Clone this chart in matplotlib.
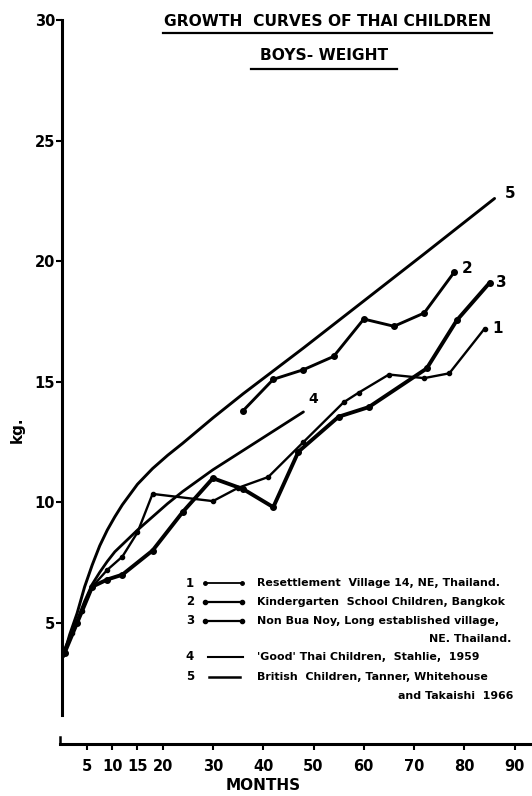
import numpy as np
import matplotlib
matplotlib.use("Agg")
import matplotlib.pyplot as plt
from matplotlib.lines import Line2D

## Values (age in months, weight in kg)
# 1 Resettlement Village 14, NE Thailand
s1_month = [0.5, 2, 4, 6, 9, 12, 15, 18, 30, 35, 41, 48, 56, 59, 65, 72, 77, 84]
s1_kg = [3.8, 4.6, 5.5, 6.5, 7.2, 7.75, 8.75, 10.35, 10.05, 10.6, 11.05, 12.5,
         14.15, 14.55, 15.3, 15.15, 15.35, 17.2]
# 2 Kindergarten school children, Bangkok
s2_month = [36, 42, 48, 54, 60, 66, 72, 78]
s2_kg = [13.8, 15.1, 15.5, 16.05, 17.6, 17.3, 17.85, 19.55]
# 3 Non Bua Noy
s3_month = [0.5, 3, 6, 9, 12, 18, 24, 30, 36, 42, 47, 55, 61, 72.5, 78.5, 85]
s3_kg = [3.75, 5.0, 6.5, 6.8, 7.0, 8.0, 9.6, 11.0, 10.55, 9.8, 12.1, 13.55,
         13.95, 15.55, 17.55, 19.1]
# 4 'Good' Thai children (Stahlie)
c4_month = [0.5, 1.5, 3, 4.5, 6, 7.5, 9, 10.5, 12, 15, 18, 21, 24, 30, 36, 42, 48]
c4_kg = [3.9, 4.4, 5.1, 5.9, 6.6, 7.1, 7.55, 7.95, 8.25, 8.85, 9.4, 9.95, 10.45,
         11.35, 12.15, 12.95, 13.75]
# 5 British children (Tanner, Whitehouse, Takaishi)
c5_month = [0.3, 1.5, 3, 4.5, 6, 7.5, 9, 10.5, 12, 15, 18, 21, 24, 30, 36, 42,
            48, 60, 72, 86]
c5_kg = [3.6, 4.5, 5.4, 6.5, 7.4, 8.2, 8.85, 9.4, 9.9, 10.75, 11.4, 11.95, 12.45,
         13.5, 14.5, 15.45, 16.4, 18.35, 20.3, 22.6]

x_ticks = [5, 10, 15, 20, 30, 40, 50, 60, 70, 80, 90]
y_ticks = [5, 10, 15, 20, 25, 30]

legend_rows = [
    ("1", "Resettlement  Village 14, NE, Thailand."),
    ("2", "Kindergarten  School Children, Bangkok"),
    ("3", "Non Bua Noy, Long established village,"),
    ("4", "'Good' Thai Children,  Stahlie,  1959"),
    ("5", "British  Children, Tanner, Whitehouse"),
]

W, H = 532, 796
fig = plt.figure(figsize=(W / 100, H / 100), dpi=100)
ax = fig.add_axes([59.5 / W, 1 - 743.5 / H, 472.8 / W, 723.5 / H])
ax.set_xlim(-0.5, 93.5)
ax.set_ylim(0, 30)

bold = dict(fontweight="bold", family="DejaVu Sans")
k = "black"

ax.plot(c5_month, c5_kg, color=k, lw=2.1, solid_capstyle="round", solid_joinstyle="round")
ax.plot(c4_month, c4_kg, color=k, lw=2.0, solid_capstyle="round", solid_joinstyle="round")
ax.plot(s1_month, s1_kg, color=k, lw=1.7, marker="o", ms=3)
ax.plot(s2_month, s2_kg, color=k, lw=2.1, marker="o", ms=4)
ax.plot(s3_month, s3_kg, color=k, lw=2.8, marker="o", ms=4)

# end labels
ax.text(89.0, 22.8, "5", ha="center", va="center", fontsize=11, **bold)
ax.text(80.6, 19.7, "2", ha="center", va="center", fontsize=11, **bold)
ax.text(87.4, 19.1, "3", ha="center", va="center", fontsize=11, **bold)
ax.text(86.6, 17.2, "1", ha="center", va="center", fontsize=11, **bold)
ax.text(50.0, 14.3, "4", ha="center", va="center", fontsize=10, **bold)

# axes styling
for s in ["top", "right"]:
    ax.spines[s].set_visible(False)
ax.spines["left"].set_position(("data", 0))
ax.spines["left"].set_bounds(1.2, 30)
ax.spines["left"].set_linewidth(2.2)
ax.spines["bottom"].set_bounds(-0.5, 93.5)
ax.spines["bottom"].set_linewidth(2.2)
ax.set_xticks(x_ticks)
ax.set_yticks(y_ticks)
ax.tick_params(axis="x", direction="out", length=4, width=1.5, pad=7, labelsize=10.5)
ax.tick_params(axis="y", direction="out", length=4, width=1.5, pad=1, labelsize=10.5)
for lab in ax.get_xticklabels() + ax.get_yticklabels():
    lab.set_fontweight("bold")

# small hook at the left end of the time axis
ax.plot([-0.4, -0.4], [0, 0.25], color=k, lw=1.8, clip_on=False)

# legend drawn by hand
row_y = [6.65, 5.87, 5.08, 3.59, 2.76]
for (num, txt), y in zip(legend_rows, row_y):
    ax.text(25.4, y, num, ha="center", va="center", fontsize=8.5, **bold)
    ax.text(38.8, y, txt, ha="left", va="center", fontsize=7.9, **bold)
ax.plot([28.4, 35.8], [6.65, 6.65], color=k, lw=1.3, marker="o", ms=2.5)
ax.plot([28.4, 35.8], [5.87, 5.87], color=k, lw=1.6, marker="o", ms=3)
ax.plot([28.4, 35.8], [5.08, 5.08], color=k, lw=1.6, marker="o", ms=3)
ax.plot([29.0, 36.0], [3.59, 3.59], color=k, lw=1.5)
ax.plot([29.3, 35.3], [2.76, 2.76], color=k, lw=1.8)
ax.text(89.3, 4.33, "NE. Thailand.", ha="right", va="center", fontsize=7.9, **bold)
ax.text(89.8, 1.97, "and Takaishi  1966", ha="right", va="center", fontsize=7.9, **bold)

# titles with underline
fig.text(327.5 / W, 1 - 22 / H, "GROWTH  CURVES OF THAI CHILDREN", ha="center",
         va="center", fontsize=11.2, **bold)
fig.add_artist(Line2D([163 / W, 492 / W], [1 - 33 / H] * 2, color=k, lw=1.6))
fig.text(324 / W, 1 - 55 / H, "BOYS- WEIGHT", ha="center", va="center",
         fontsize=11.2, **bold)
fig.add_artist(Line2D([251 / W, 397 / W], [1 - 69 / H] * 2, color=k, lw=1.6))

fig.text(17 / W, 1 - 430 / H, "kg.", rotation=90, ha="center", va="center",
         fontsize=11, **bold)
fig.text(263 / W, 1 - 785 / H, "MONTHS", ha="center", va="center", fontsize=11, **bold)

fig.savefig("out.png", dpi=100)
